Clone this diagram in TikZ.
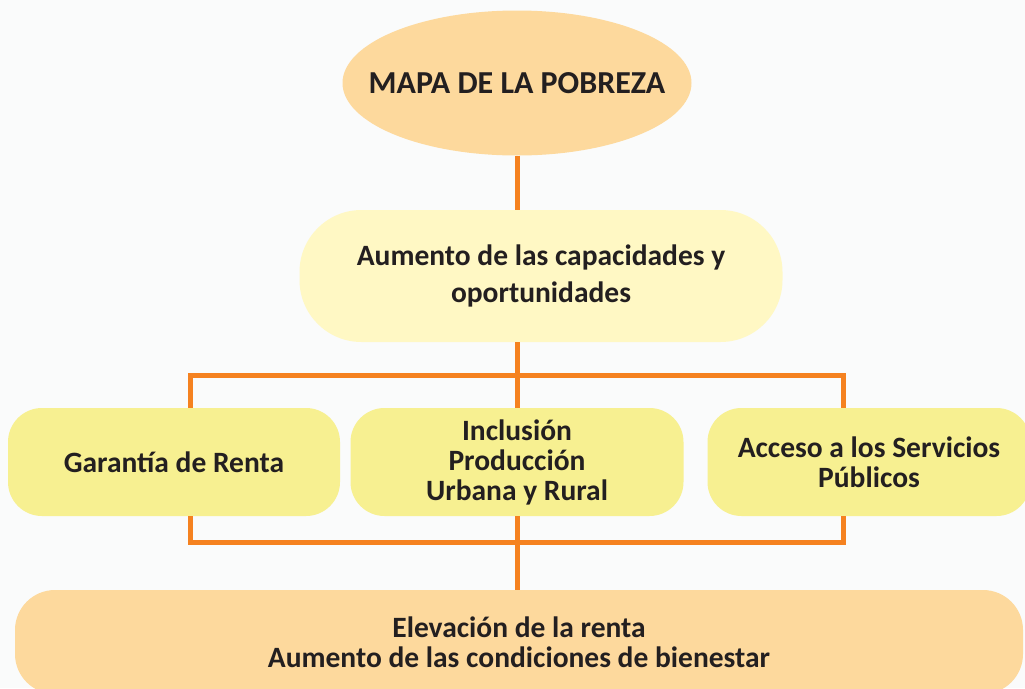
\documentclass[tikz,border=0pt]{standalone}
\usepackage{fontspec}
\setmainfont{Carlito}
\usepackage{tikz}
\usetikzlibrary{shapes.geometric}

\definecolor{fondo}{HTML}{FAFBFB}
\definecolor{naranja}{HTML}{F58220}
\definecolor{melocoton}{HTML}{FDD99D}
\definecolor{crema}{HTML}{FFF8C4}
\definecolor{amarillo}{HTML}{F7F091}
\definecolor{tinta}{HTML}{231F20}

\begin{document}
\begin{tikzpicture}[x=1pt,y=-1pt,
    caja/.style={draw=none,align=center,inner sep=0pt,text=tinta,
      font=\fontsize{29.5}{30}\selectfont\bfseries},
    linea/.style={naranja,line width=5pt}]
          \fill[fondo] (0,0) rectangle (1025,688);
          \useasboundingbox (0,0) rectangle (1025,688);
          \clip (0,0) rectangle (1025,688);
          % nodos
          \node[caja,ellipse,fill=melocoton,minimum width=349pt,minimum height=145pt,inner xsep=-40pt,
            font=\fontsize{32}{34}\selectfont\bfseries] (mapa) at (517,83) {MAPA DE LA POBREZA};
          \node[caja,rectangle,rounded corners=62pt,fill=crema,minimum width=483pt,minimum height=132pt,
            font=\fontsize{29.5}{37}\selectfont\bfseries] (aumento) at (541,276) {Aumento de las capacidades y\\oportunidades};
          \node[caja,rectangle,rounded corners=34pt,fill=amarillo,minimum width=332pt,minimum height=108pt] (garantia) at (174,462) {Garantía de Renta};
          \node[caja,rectangle,rounded corners=34pt,fill=amarillo,minimum width=333pt,minimum height=108pt] (inclusion) at (517,462) {Inclusión\\Producción\\Urbana y Rural};
          \node[caja,rectangle,rounded corners=34pt,fill=amarillo,minimum width=323pt,minimum height=108pt] (acceso) at (869,462) {Acceso a los Servicios\\Públicos};
          \node[caja,rectangle,rounded corners=40pt,fill=melocoton,minimum width=1008pt,minimum height=104pt] (elevacion) at (519,642) {Elevación de la renta\\Aumento de las condiciones de bienestar};
          % conectores
          \coordinate (arribaizq) at (190,375);
          \coordinate (arribader) at (843,375);
          \coordinate (abajoizq) at (190,542);
          \coordinate (abajoder) at (843,542);
          \draw[linea] (mapa.south) -- (mapa.south |- aumento.north);
          \draw[linea] (aumento.south -| inclusion.north) -- (inclusion.north);
          \draw[linea] (garantia.north -| arribaizq) -- (arribaizq) -- (arribader) -- (acceso.north -| arribader);
          \draw[linea] (garantia.south -| abajoizq) -- (abajoizq) -- (abajoder) -- (acceso.south -| abajoder);
          \draw[linea] (inclusion.south) -- (inclusion.south |- elevacion.north);
        \end{tikzpicture}
\end{document}
